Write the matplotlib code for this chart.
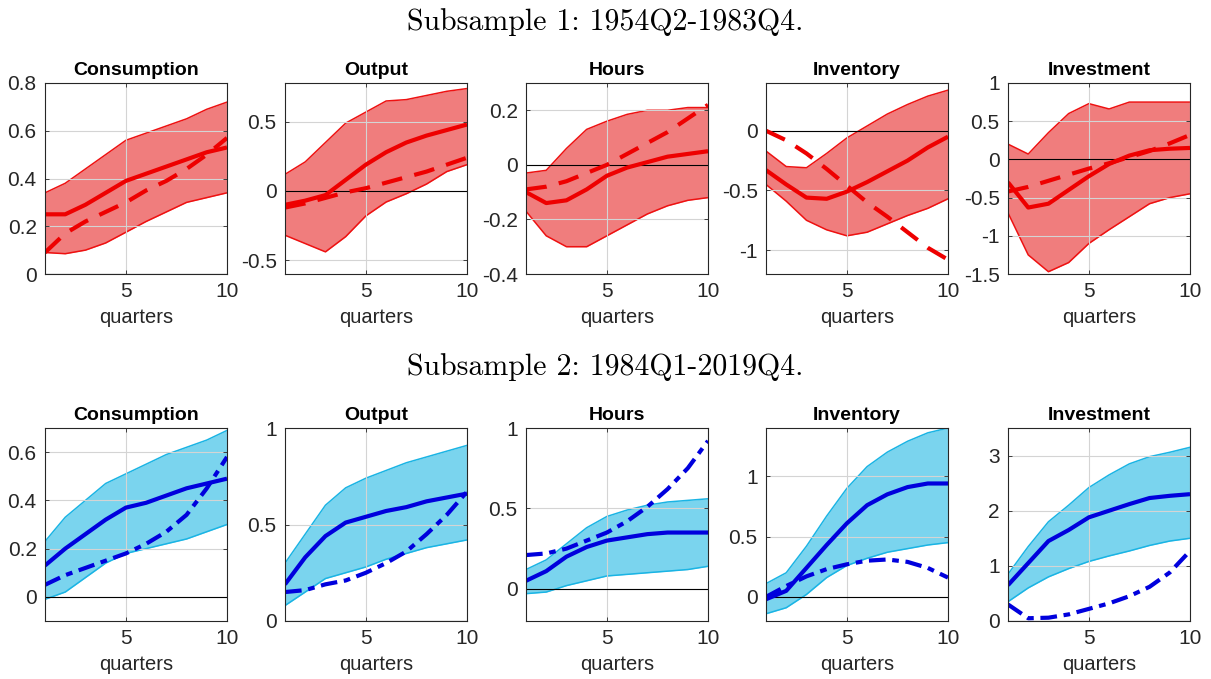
import numpy as np
import matplotlib
matplotlib.use("Agg")
import matplotlib.pyplot as plt
from matplotlib.ticker import FuncFormatter

plt.rcParams['font.family'] = ['Liberation Sans', 'DejaVu Sans']

quarters = np.arange(1, 11)
titles = ["Consumption", "Output", "Hours", "Inventory", "Investment"]

# ---------- Subsample 1 (red) ----------
s1_upper = [
    [0.34, 0.38, 0.44, 0.50, 0.56, 0.59, 0.62, 0.65, 0.69, 0.72],
    [0.12, 0.21, 0.35, 0.49, 0.57, 0.65, 0.66, 0.69, 0.72, 0.74],
    [-0.03, -0.02, 0.06, 0.13, 0.16, 0.185, 0.20, 0.20, 0.21, 0.21],
    [-0.17, -0.30, -0.31, -0.19, -0.06, 0.04, 0.14, 0.22, 0.29, 0.34],
    [0.20, 0.07, 0.35, 0.60, 0.73, 0.66, 0.75, 0.75, 0.75, 0.75],
]
s1_lower = [
    [0.09, 0.085, 0.10, 0.13, 0.175, 0.22, 0.26, 0.30, 0.32, 0.34],
    [-0.32, -0.38, -0.44, -0.33, -0.18, -0.08, -0.02, 0.05, 0.14, 0.19],
    [-0.17, -0.26, -0.30, -0.30, -0.26, -0.22, -0.18, -0.15, -0.13, -0.12],
    [-0.45, -0.59, -0.75, -0.83, -0.88, -0.85, -0.78, -0.71, -0.65, -0.57],
    [-0.70, -1.25, -1.47, -1.35, -1.10, -0.92, -0.75, -0.58, -0.50, -0.45],
]
s1_median = [
    [0.25, 0.25, 0.29, 0.34, 0.39, 0.42, 0.45, 0.48, 0.51, 0.53],
    [-0.10, -0.07, -0.03, 0.08, 0.19, 0.28, 0.35, 0.40, 0.44, 0.48],
    [-0.10, -0.14, -0.13, -0.09, -0.04, -0.01, 0.01, 0.03, 0.04, 0.05],
    [-0.33, -0.45, -0.56, -0.57, -0.51, -0.43, -0.34, -0.25, -0.14, -0.05],
    [-0.30, -0.63, -0.58, -0.40, -0.22, -0.06, 0.05, 0.12, 0.14, 0.15],
]
s1_model = [
    [0.09, 0.17, 0.22, 0.26, 0.30, 0.35, 0.39, 0.44, 0.50, 0.57],
    [-0.12, -0.09, -0.05, -0.01, 0.02, 0.06, 0.10, 0.14, 0.19, 0.24],
    [-0.09, -0.08, -0.06, -0.03, 0.00, 0.04, 0.08, 0.12, 0.17, 0.22],
    [0.00, -0.08, -0.19, -0.32, -0.46, -0.60, -0.72, -0.85, -0.98, -1.08],
    [-0.42, -0.36, -0.28, -0.20, -0.12, -0.05, 0.03, 0.11, 0.21, 0.32],
]
s1_ylim = [(0, 0.8), (-0.6, 0.78), (-0.4, 0.3), (-1.2, 0.4), (-1.5, 1.0)]
s1_yticks = [[0, 0.2, 0.4, 0.6, 0.8], [-0.5, 0, 0.5], [-0.4, -0.2, 0, 0.2],
             [-1, -0.5, 0], [-1.5, -1, -0.5, 0, 0.5, 1]]

# ---------- Subsample 2 (blue) ----------
s2_upper = [
    [0.23, 0.33, 0.40, 0.47, 0.51, 0.55, 0.59, 0.62, 0.65, 0.69],
    [0.30, 0.45, 0.60, 0.69, 0.74, 0.78, 0.82, 0.85, 0.88, 0.91],
    [0.12, 0.18, 0.28, 0.38, 0.45, 0.49, 0.52, 0.54, 0.55, 0.56],
    [0.11, 0.20, 0.42, 0.67, 0.90, 1.08, 1.20, 1.29, 1.36, 1.40],
    [0.85, 1.35, 1.80, 2.10, 2.42, 2.65, 2.85, 2.98, 3.06, 3.15],
]
s2_lower = [
    [-0.01, 0.02, 0.08, 0.14, 0.18, 0.20, 0.22, 0.24, 0.27, 0.30],
    [0.08, 0.15, 0.22, 0.25, 0.28, 0.32, 0.35, 0.38, 0.40, 0.42],
    [-0.03, -0.02, 0.02, 0.05, 0.08, 0.09, 0.10, 0.11, 0.12, 0.14],
    [-0.14, -0.09, 0.02, 0.16, 0.26, 0.32, 0.37, 0.40, 0.43, 0.45],
    [0.35, 0.60, 0.80, 0.95, 1.08, 1.18, 1.27, 1.37, 1.45, 1.50],
]
s2_median = [
    [0.13, 0.20, 0.26, 0.32, 0.37, 0.39, 0.42, 0.45, 0.47, 0.49],
    [0.19, 0.33, 0.44, 0.51, 0.54, 0.57, 0.59, 0.62, 0.64, 0.66],
    [0.05, 0.11, 0.20, 0.26, 0.30, 0.32, 0.34, 0.35, 0.35, 0.35],
    [-0.02, 0.05, 0.24, 0.43, 0.61, 0.76, 0.85, 0.91, 0.94, 0.94],
    [0.65, 1.05, 1.45, 1.65, 1.88, 2.00, 2.12, 2.23, 2.27, 2.30],
]
s2_model = [
    [0.05, 0.09, 0.12, 0.15, 0.18, 0.22, 0.27, 0.34, 0.45, 0.58],
    [0.15, 0.16, 0.19, 0.21, 0.25, 0.30, 0.36, 0.45, 0.55, 0.67],
    [0.21, 0.22, 0.25, 0.30, 0.35, 0.42, 0.51, 0.62, 0.75, 0.92],
    [0.00, 0.09, 0.17, 0.23, 0.27, 0.30, 0.31, 0.29, 0.24, 0.16],
    [0.30, 0.05, 0.06, 0.12, 0.22, 0.32, 0.45, 0.62, 0.88, 1.27],
]
s2_ylim = [(-0.1, 0.7), (0, 1.0), (-0.2, 1.0), (-0.2, 1.4), (0, 3.5)]
s2_yticks = [[0, 0.2, 0.4, 0.6], [0, 0.5, 1], [0, 0.5, 1], [0, 0.5, 1], [0, 1, 2, 3]]

W, H = 1211, 679
fig = plt.figure(figsize=(W / 100, H / 100), dpi=100)

lefts = [45, 285, 526, 766, 1008]
ax_w = 182


def make_panel(left, top, height, upper, lower, med, model, ylim, yticks, title,
               fill_col, edge_col, line_col, dash):
    ax = fig.add_axes([left / W, 1 - (top + height) / H, ax_w / W, height / H])
    ax.fill_between(quarters, lower, upper, color=fill_col, lw=0, zorder=1)
    ax.plot(quarters, upper, color=edge_col, lw=1.1, zorder=2)
    ax.plot(quarters, lower, color=edge_col, lw=1.1, zorder=2)
    ax.axhline(0, color='black', lw=0.8, zorder=3.5)
    ax.plot(quarters, med, color=line_col, lw=3.0, zorder=4, solid_capstyle='butt')
    ax.plot(quarters, model, color=line_col, lw=3.0, dashes=dash, zorder=4)
    ax.set_xlim(1, 10)
    ax.set_ylim(*ylim)
    ax.set_xticks([5, 10])
    ax.set_yticks(yticks)
    ax.yaxis.set_major_formatter(FuncFormatter(lambda v, p: '%g' % v))
    ax.grid(True, color='#d4d4d4', lw=0.8, zorder=3)
    ax.set_axisbelow(False)
    ax.tick_params(direction='in', length=3, width=0.6, top=True, right=True,
                   labelsize=15, colors='#262626', pad=6)
    for sp in ax.spines.values():
        sp.set_color('#262626')
        sp.set_linewidth(0.8)
        sp.set_zorder(5)
    ax.set_title(title, fontsize=14, fontweight='bold', pad=6)
    ax.set_xlabel('quarters', fontsize=14.5, color='#262626', labelpad=5)
    return ax


for i in range(5):
    make_panel(lefts[i], 83, 191, s1_upper[i], s1_lower[i], s1_median[i], s1_model[i],
               s1_ylim[i], s1_yticks[i], titles[i],
               (0.94, 0.49, 0.49, 1.0), '#ee1111', '#ee0000', (5, 3))
    make_panel(lefts[i], 428, 193, s2_upper[i], s2_lower[i], s2_median[i], s2_model[i],
               s2_ylim[i], s2_yticks[i], titles[i],
               '#7ad4ee', '#1ab4e4', '#0000dd', (4, 1.6, 1.6, 1.6))

fig.text(0.5, 1 - 22 / H, 'Subsample 1: 1954Q2-1983Q4.', ha='center', va='center',
         fontsize=21.5, family=['cmr10', 'DejaVu Serif'])
fig.text(0.5, 1 - 367 / H, 'Subsample 2: 1984Q1-2019Q4.', ha='center', va='center',
         fontsize=21.5, family=['cmr10', 'DejaVu Serif'])

fig.savefig('out.png', dpi=100)
